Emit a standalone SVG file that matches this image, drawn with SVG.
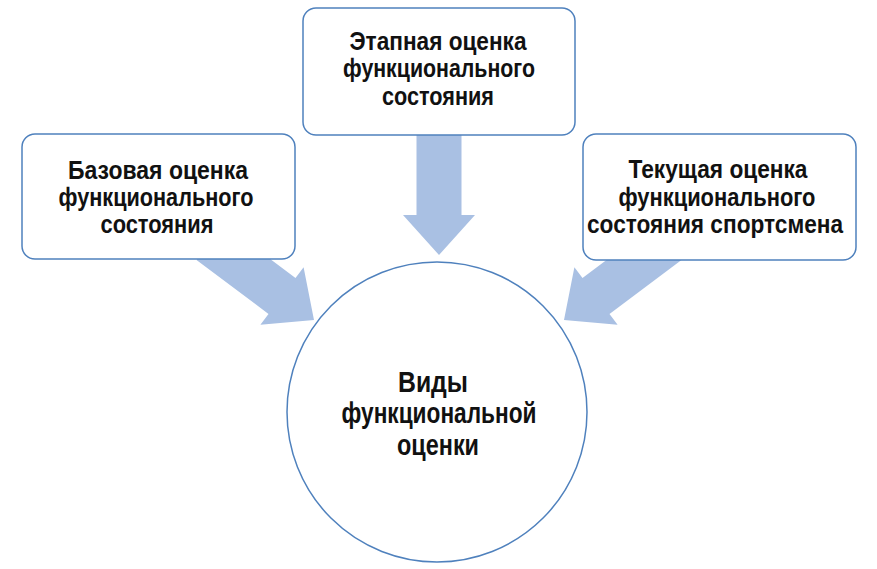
<svg xmlns="http://www.w3.org/2000/svg" width="877" height="569" viewBox="0 0 877 569">
<style>
.box{fill:#fff;stroke:#4f81bd;stroke-width:1.5}
.arrow{fill:#a9c0e3}
.t{font-family:"Liberation Sans",Arial,sans-serif;font-weight:bold;font-size:26px;fill:#111;text-anchor:middle}
.c{font-size:29px}
</style>
<rect width="877" height="569" fill="#fff"/>
<g id="connectors">
<polygon class="arrow" points="0,0 -40,-36 -40,-22.5 -130,-22.5 -130,22.5 -40,22.5 -40,36" transform="translate(314,320) rotate(36.87)"/>
<polygon class="arrow" points="0,0 -40,-36 -40,-22.5 -130,-22.5 -130,22.5 -40,22.5 -40,36" transform="translate(564,320) rotate(143.13)"/>
<polygon class="arrow" points="0,0 -40,-36 -40,-22.5 -130,-22.5 -130,22.5 -40,22.5 -40,36" transform="translate(439,255) rotate(90)"/>
</g>
<g id="top">
<rect class="box" x="303" y="8" width="272" height="127" rx="13"/>
<text class="t" x="438" y="50" textLength="177" lengthAdjust="spacingAndGlyphs">Этапная оценка</text>
<text class="t" x="439" y="77" textLength="192" lengthAdjust="spacingAndGlyphs">функционального</text>
<text class="t" x="438" y="105" textLength="112" lengthAdjust="spacingAndGlyphs">состояния</text>
</g>
<g id="left">
<rect class="box" x="22" y="134" width="273" height="125" rx="13"/>
<text class="t" x="158" y="179" textLength="180" lengthAdjust="spacingAndGlyphs">Базовая оценка</text>
<text class="t" x="156" y="206" textLength="195" lengthAdjust="spacingAndGlyphs">функционального</text>
<text class="t" x="157" y="233" textLength="113" lengthAdjust="spacingAndGlyphs">состояния</text>
</g>
<g id="right">
<rect class="box" x="583" y="134" width="273" height="126" rx="13"/>
<text class="t" x="718" y="178" textLength="179" lengthAdjust="spacingAndGlyphs">Текущая оценка</text>
<text class="t" x="717" y="206" textLength="197" lengthAdjust="spacingAndGlyphs">функционального</text>
<text class="t" x="715" y="233" textLength="256" lengthAdjust="spacingAndGlyphs">состояния спортсмена</text>
</g>
<g id="center">
<circle class="box" cx="437" cy="412" r="150"/>
<text class="t c" x="433" y="392" textLength="70" lengthAdjust="spacingAndGlyphs">Виды</text>
<text class="t c" x="439" y="423" textLength="195" lengthAdjust="spacingAndGlyphs">функциональной</text>
<text class="t c" x="438" y="455" textLength="82" lengthAdjust="spacingAndGlyphs">оценки</text>
</g>
</svg>
